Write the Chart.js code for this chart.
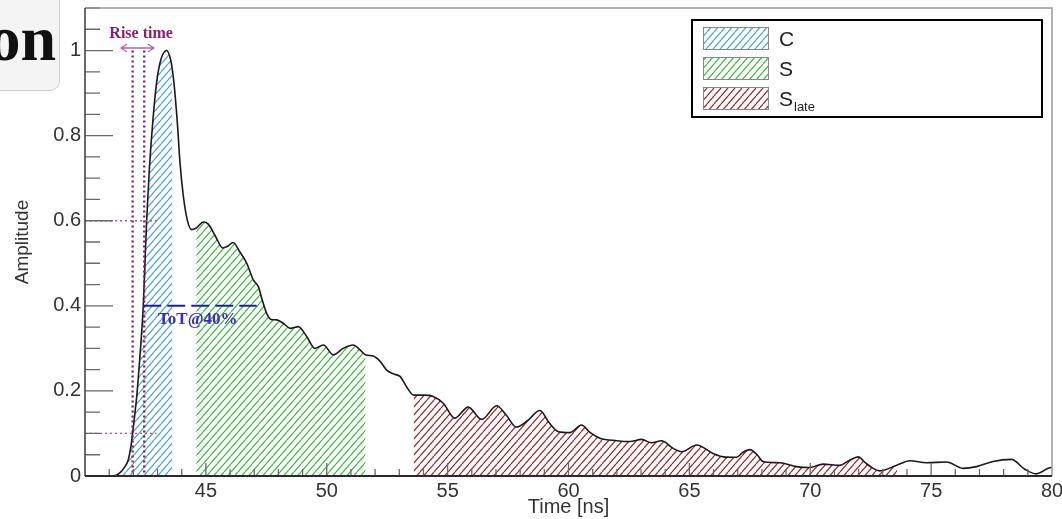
<!DOCTYPE html>
<html>
<head>
<meta charset="utf-8">
<script src="https://cdn.jsdelivr.net/npm/chart.js"></script>
<style>
  html, body { margin: 0; padding: 0; background: #fff; }
  #wrap { position: relative; width: 1062px; height: 519px; overflow: hidden; }
  #tab {
    position: absolute; left: -10px; top: -10px; width: 70px; height: 101px;
    box-sizing: border-box; background: #f4f4f4; border: 1px solid #cfcfcf;
    border-radius: 10px; overflow: hidden; z-index: 2;
  }
  #tab span {
    position: absolute; right: 3px; top: 17px;
    font: bold 64px "Liberation Serif", serif; line-height: 62px; color: #111;
  }
</style>
</head>
<body>
<div id="wrap">
  <div id="tab"><span>on</span></div>
  <canvas id="pulseChart" width="1062" height="519"></canvas>
</div>
<script>
// pulse: time [ns] and amplitude
const times = [40, 41, 41.3, 41.45, 41.6, 41.79, 41.9, 41.97, 42.05, 42.14, 42.27, 42.41, 42.48, 42.55, 42.66, 42.8, 42.96, 43.14, 43.38, 43.54, 43.6, 43.68, 43.82, 43.93, 44.07, 44.23, 44.41,
  44.6, 44.9, 45.1, 45.4, 45.7, 45.9, 46.13, 46.4, 46.69, 46.96, 47.17, 47.35, 47.51, 47.7, 47.93, 48.2, 48.5, 48.82, 49.17, 49.51, 49.86, 50.27, 50.68, 51.1, 51.4, 51.6,
  51.92, 52.2, 52.48, 52.75, 53.03, 53.3, 53.6, 54.0, 54.4, 54.82, 55.3, 55.85, 56.41, 57.03, 57.4, 57.85, 58.3, 58.82, 59.2, 59.58, 60.06, 60.54, 60.9, 61.3, 61.99, 62.54,
  63.02, 63.44, 63.85, 64.3, 64.68, 65.3, 65.98, 66.4, 66.95, 67.2, 67.5, 67.8, 68.05, 68.74, 69.43, 69.98, 70.53, 71.22, 71.6, 71.98, 72.3, 72.6, 72.88, 73.6, 74.12, 74.81,
  75.64, 76.32, 76.88, 77.56, 78.32, 78.87, 79.35, 79.97, 80];
const amplitude = [0, 0, 0.002, 0.008, 0.018, 0.038, 0.07, 0.1, 0.14, 0.187, 0.28, 0.4, 0.5, 0.6, 0.72, 0.83, 0.924, 0.979, 1.0, 0.979, 0.96, 0.924, 0.83, 0.736, 0.657, 0.602, 0.579,
  0.583, 0.597, 0.592, 0.563, 0.536, 0.54, 0.549, 0.527, 0.5, 0.461, 0.445, 0.41, 0.383, 0.368, 0.367, 0.359, 0.347, 0.351, 0.328, 0.3, 0.308, 0.285, 0.3, 0.308, 0.295, 0.285,
  0.282, 0.27, 0.249, 0.24, 0.234, 0.21, 0.19, 0.19, 0.187, 0.171, 0.136, 0.162, 0.133, 0.165, 0.145, 0.115, 0.13, 0.154, 0.125, 0.104, 0.102, 0.12, 0.102, 0.089, 0.083, 0.081,
  0.086, 0.078, 0.083, 0.066, 0.057, 0.073, 0.053, 0.045, 0.044, 0.055, 0.062, 0.05, 0.034, 0.031, 0.022, 0.02, 0.028, 0.025, 0.036, 0.045, 0.03, 0.018, 0.012, 0.026, 0.036, 0.031,
  0.033, 0.018, 0.022, 0.034, 0.039, 0.016, 0.005, 0.02, 0.02];

// integration windows
const regionNames = ['C', 'S', 'S'];
const regionSubs = ['', '', 'late'];
const regionStart = [41.3, 44.6, 53.6];
const regionEnd = [43.6, 51.6, 73.6];
const regionColors = ['#4aa2e4', '#3cbc3c', '#a0262c'];

// axes
const xTickLabels = [45, 50, 55, 60, 65, 70, 75, 80];
const yTickLabels = ['0', '0.2', '0.4', '0.6', '0.8', '1'];

// annotations
const riseLevels = [0.6, 0.1];
const riseEdges = [41.97, 42.45];
const riseArrow = [41.49, 42.85];
const totLevel = 0.4;
const totRange = [42.41, 47.1];

function hatch(color) {
  const c = document.createElement('canvas');
  c.width = 7; c.height = 8;
  const g = c.getContext('2d');
  g.strokeStyle = color;
  g.lineWidth = 1.2;
  g.beginPath();
  [-7, 0, 7].forEach(o => { g.moveTo(o, 8); g.lineTo(o + 7, 0); });
  g.stroke();
  return g.createPattern(c, 'repeat');
}
const patterns = regionColors.map(hatch);

const curve = times.map((t, i) => ({x: t, y: amplitude[i]}));
const datasets = [{
  data: curve, borderColor: '#1a1a1a', borderWidth: 1.6, pointRadius: 0,
  cubicInterpolationMode: 'monotone', fill: false
}];
regionNames.forEach((n, k) => {
  datasets.push({
    data: curve.filter(p => p.x >= regionStart[k] && p.x <= regionEnd[k]),
    borderWidth: 0, borderColor: 'rgba(0,0,0,0)', pointRadius: 0,
    cubicInterpolationMode: 'monotone', fill: 'origin', backgroundColor: patterns[k]
  });
});

const decorations = {
  id: 'decorations',
  afterDatasetsDraw(chart) {
    const ctx = chart.ctx, a = chart.chartArea;
    const xs = chart.scales.x, ys = chart.scales.y;
    const X = v => xs.getPixelForValue(v), Y = v => ys.getPixelForValue(v);
    ctx.save();

    // rise time markers
    ctx.setLineDash([2, 3]);
    ctx.strokeStyle = '#a8528c'; ctx.lineWidth = 1.3;
    riseLevels.forEach(l => {
      ctx.beginPath(); ctx.moveTo(a.left, Y(l)); ctx.lineTo(X(42.95), Y(l)); ctx.stroke();
    });
    ctx.strokeStyle = '#7b1d5e'; ctx.lineWidth = 2.3;
    riseEdges.forEach(t => {
      ctx.beginPath(); ctx.moveTo(X(t), Y(1.0)); ctx.lineTo(X(t), a.bottom); ctx.stroke();
    });
    ctx.setLineDash([]);
    ctx.strokeStyle = '#b8659f'; ctx.lineWidth = 1.3;
    const ay = Y(1.006), x0 = X(riseArrow[0]), x1 = X(riseArrow[1]);
    ctx.beginPath();
    ctx.moveTo(x0, ay); ctx.lineTo(x1, ay);
    ctx.moveTo(x0 + 6, ay - 4); ctx.lineTo(x0, ay); ctx.lineTo(x0 + 6, ay + 4);
    ctx.moveTo(x1 - 6, ay - 4); ctx.lineTo(x1, ay); ctx.lineTo(x1 - 6, ay + 4);
    ctx.stroke();
    ctx.fillStyle = '#8d1f6c';
    ctx.font = 'bold 16px "Liberation Serif"';
    ctx.textAlign = 'center'; ctx.textBaseline = 'middle';
    ctx.fillText('Rise time', X(42.32), Y(1.04));

    // time over threshold
    ctx.strokeStyle = '#1f1f9e'; ctx.lineWidth = 2;
    ctx.setLineDash([18, 6]);
    ctx.beginPath(); ctx.moveTo(X(totRange[0]), Y(totLevel)); ctx.lineTo(X(totRange[1]), Y(totLevel)); ctx.stroke();
    ctx.setLineDash([]);
    ctx.fillStyle = '#3a2fc0';
    ctx.font = 'bold 17px "Liberation Serif"';
    ctx.textAlign = 'left'; ctx.textBaseline = 'alphabetic';
    ctx.fillText('ToT@40%', X(43.02), Y(0.357));

    // inward ticks
    ctx.strokeStyle = '#6a6a6a'; ctx.lineWidth = 1.3;
    ctx.beginPath();
    for (let t = 41; t < 80; t++) {
      const len = t % 5 === 0 ? 13 : 7;
      ctx.moveTo(X(t), a.bottom); ctx.lineTo(X(t), a.bottom - len);
    }
    for (let k = 1; k <= 22; k++) {
      const v = k * 0.05, len = k % 4 === 0 ? 28 : 15;
      ctx.moveTo(a.left, Y(v)); ctx.lineTo(a.left + len, Y(v));
    }
    ctx.stroke();

    // frame
    ctx.strokeStyle = '#9a9a9a'; ctx.lineWidth = 1.5;
    ctx.beginPath(); ctx.moveTo(a.left, a.top); ctx.lineTo(a.right, a.top); ctx.lineTo(a.right, a.bottom); ctx.stroke();
    ctx.strokeStyle = '#444'; ctx.lineWidth = 1.6;
    ctx.beginPath(); ctx.moveTo(a.left, a.top); ctx.lineTo(a.left, a.bottom); ctx.stroke();
    ctx.strokeStyle = '#2a2a2a'; ctx.lineWidth = 2;
    ctx.beginPath(); ctx.moveTo(a.left, a.bottom); ctx.lineTo(a.right, a.bottom); ctx.stroke();

    // legend box
    const lx = a.right - 360, ly = a.top + 12;
    ctx.fillStyle = '#fff'; ctx.fillRect(lx, ly, 350, 97);
    ctx.strokeStyle = '#000'; ctx.lineWidth = 2;
    ctx.strokeRect(lx, ly, 350, 97);
    regionNames.forEach((n, k) => {
      const sy = ly + 7 + k * 30;
      ctx.fillStyle = patterns[k];
      ctx.fillRect(lx + 11, sy, 66, 23);
      ctx.strokeStyle = '#888'; ctx.lineWidth = 1;
      ctx.strokeRect(lx + 11.5, sy + 0.5, 65, 22);
      ctx.fillStyle = '#222';
      ctx.font = '21px "Liberation Sans"';
      ctx.fillText(n, lx + 87, sy + 19);
      if (regionSubs[k]) {
        ctx.font = '13px "Liberation Sans"';
        ctx.fillText(regionSubs[k], lx + 102, sy + 24);
      }
    });
    ctx.restore();
  }
};

new Chart(document.getElementById('pulseChart'), {
  type: 'line',
  data: {datasets},
  options: {
    responsive: false,
    animation: false,
    layout: {padding: {top: 8, right: 10, left: 0, bottom: 0}},
    plugins: {legend: {display: false}, tooltip: {enabled: false}},
    scales: {
      x: {
        type: 'linear', min: 40, max: 80,
        grid: {display: false, drawTicks: false}, border: {display: false},
        ticks: {
          stepSize: 5, autoSkip: false, maxRotation: 0, padding: 3, color: '#333',
          font: {size: 20, family: 'Liberation Sans'},
          callback: v => xTickLabels.includes(v) ? String(v) : ''
        },
        title: {display: true, text: 'Time [ns]', color: '#333', padding: {top: 0, bottom: 0},
          font: {size: 20, family: 'Liberation Sans'}},
        afterFit: s => { s.height = 43; s.paddingLeft = 0; s.paddingRight = 0; }
      },
      y: {
        min: 0, max: 1.1,
        grid: {display: false, drawTicks: false}, border: {display: false},
        ticks: {
          stepSize: 0.2, includeBounds: false, padding: 4, color: '#333',
          font: {size: 20, family: 'Liberation Sans'},
          callback: (v, i) => yTickLabels[i]
        },
        title: {display: true, text: 'Amplitude', color: '#333', padding: {top: 11, bottom: 0},
          font: {size: 19, family: 'Liberation Sans'}},
        afterFit: s => { s.width = 85; s.paddingTop = 0; s.paddingBottom = 0; }
      }
    }
  },
  plugins: [decorations]
});
</script>
</body>
</html>
